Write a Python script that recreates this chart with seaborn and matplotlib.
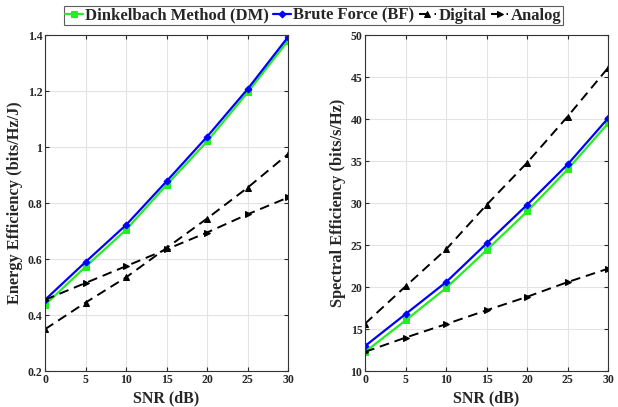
import pandas as pd
import seaborn as sns
import matplotlib.pyplot as plt
import numpy as np

# Data
snr = [0, 5, 10, 15, 20, 25, 30]

ee_dm = [0.437, 0.573, 0.705, 0.865, 1.020, 1.195, 1.380]
ee_bf = [0.455, 0.590, 0.722, 0.878, 1.037, 1.207, 1.393]
ee_digital = [0.350, 0.445, 0.535, 0.640, 0.745, 0.855, 0.975]
ee_analog = [0.455, 0.515, 0.575, 0.635, 0.695, 0.760, 0.820]

se_dm = [12.3, 16.05, 19.9, 24.4, 29.0, 34.0, 39.5]
se_bf = [13.0, 16.8, 20.6, 25.2, 29.8, 34.6, 40.1]
se_digital = [15.66, 20.1, 24.5, 29.8, 34.8, 40.3, 46.1]
se_analog = [12.3, 14.0, 15.6, 17.25, 18.85, 20.6, 22.2]

labels = ['Dinkelbach Method (DM)', 'Brute Force (BF)', 'Digital', 'Analog']

sns.set_style('ticks')
plt.rcParams['font.family'] = ['Liberation Serif', 'DejaVu Serif']
plt.rcParams['font.weight'] = 'bold'
plt.rcParams['axes.labelweight'] = 'bold'

styles = {
    'Dinkelbach Method (DM)': dict(color='#22ee22', marker='s', ls='-', ms=4, lw=1.6),
    'Brute Force (BF)': dict(color='#0000ff', marker='D', ls='-', ms=3.5, lw=1.6),
    'Digital': dict(color='black', marker='^', ls=(0, (5, 3)), ms=5, lw=1.4),
    'Analog': dict(color='black', marker='>', ls=(0, (5, 3)), ms=5, lw=1.4),
}


def make_df(vals):
    rows = []
    for lab, v in zip(labels, vals):
        for s, y in zip(snr, v):
            rows.append({'SNR': s, 'value': y, 'method': lab})
    return pd.DataFrame(rows)


df_ee = make_df([ee_dm, ee_bf, ee_digital, ee_analog])
df_se = make_df([se_dm, se_bf, se_digital, se_analog])

fig, axes = plt.subplots(1, 2, figsize=(6.18, 4.07), dpi=100)
fig.subplots_adjust(left=0.073, right=0.984, bottom=0.088, top=0.914, wspace=0.317)


def draw(ax, df, ylim, yticks, yticklabels, ylabel):
    for lab in labels:
        st = styles[lab]
        sns.lineplot(data=df[df['method'] == lab], x='SNR', y='value', ax=ax,
                     color=st['color'], marker=st['marker'], linestyle=st['ls'],
                     markersize=st['ms'], linewidth=st['lw'],
                     markeredgecolor=st['color'], label=lab, legend=False)
    ax.set_xlim(0, 30)
    ax.set_ylim(*ylim)
    ax.set_xticks(snr)
    ax.set_yticks(yticks)
    ax.set_yticklabels(yticklabels)
    ax.grid(True, color='#e3e3e3', lw=0.8)
    ax.set_axisbelow(True)
    ax.tick_params(direction='in', top=True, right=True, length=3, width=0.8,
                   labelsize=8.5, pad=2)
    for s in ax.spines.values():
        s.set_linewidth(0.8)
        s.set_color('#333333')
    for t in ax.get_xticklabels() + ax.get_yticklabels():
        t.set_fontweight('bold')
    ax.set_xlabel('SNR (dB)', fontsize=11.5, labelpad=3)
    ax.set_ylabel(ylabel, fontsize=11.8, labelpad=3)


draw(axes[0], df_ee, (0.2, 1.4), [0.2, 0.4, 0.6, 0.8, 1.0, 1.2, 1.4],
     ['0.2', '0.4', '0.6', '0.8', '1', '1.2', '1.4'], 'Energy Efficiency (bits/Hz/J)')
draw(axes[1], df_se, (10, 50), list(range(10, 51, 5)),
     [str(v) for v in range(10, 51, 5)], 'Spectral Efficiency (bits/s/Hz)')

handles, labs = axes[0].get_legend_handles_labels()
leg = fig.legend(handles, labs, loc='upper center', bbox_to_anchor=(0.507, 0.985),
                 ncol=4, frameon=True, fancybox=False, edgecolor='#333333',
                 handlelength=1.05, handletextpad=0.15, columnspacing=0.25,
                 borderpad=0.1, borderaxespad=0, prop={'weight': 'bold', 'size': 12})
leg.get_frame().set_linewidth(0.8)

fig.savefig('out.png', dpi=100)
